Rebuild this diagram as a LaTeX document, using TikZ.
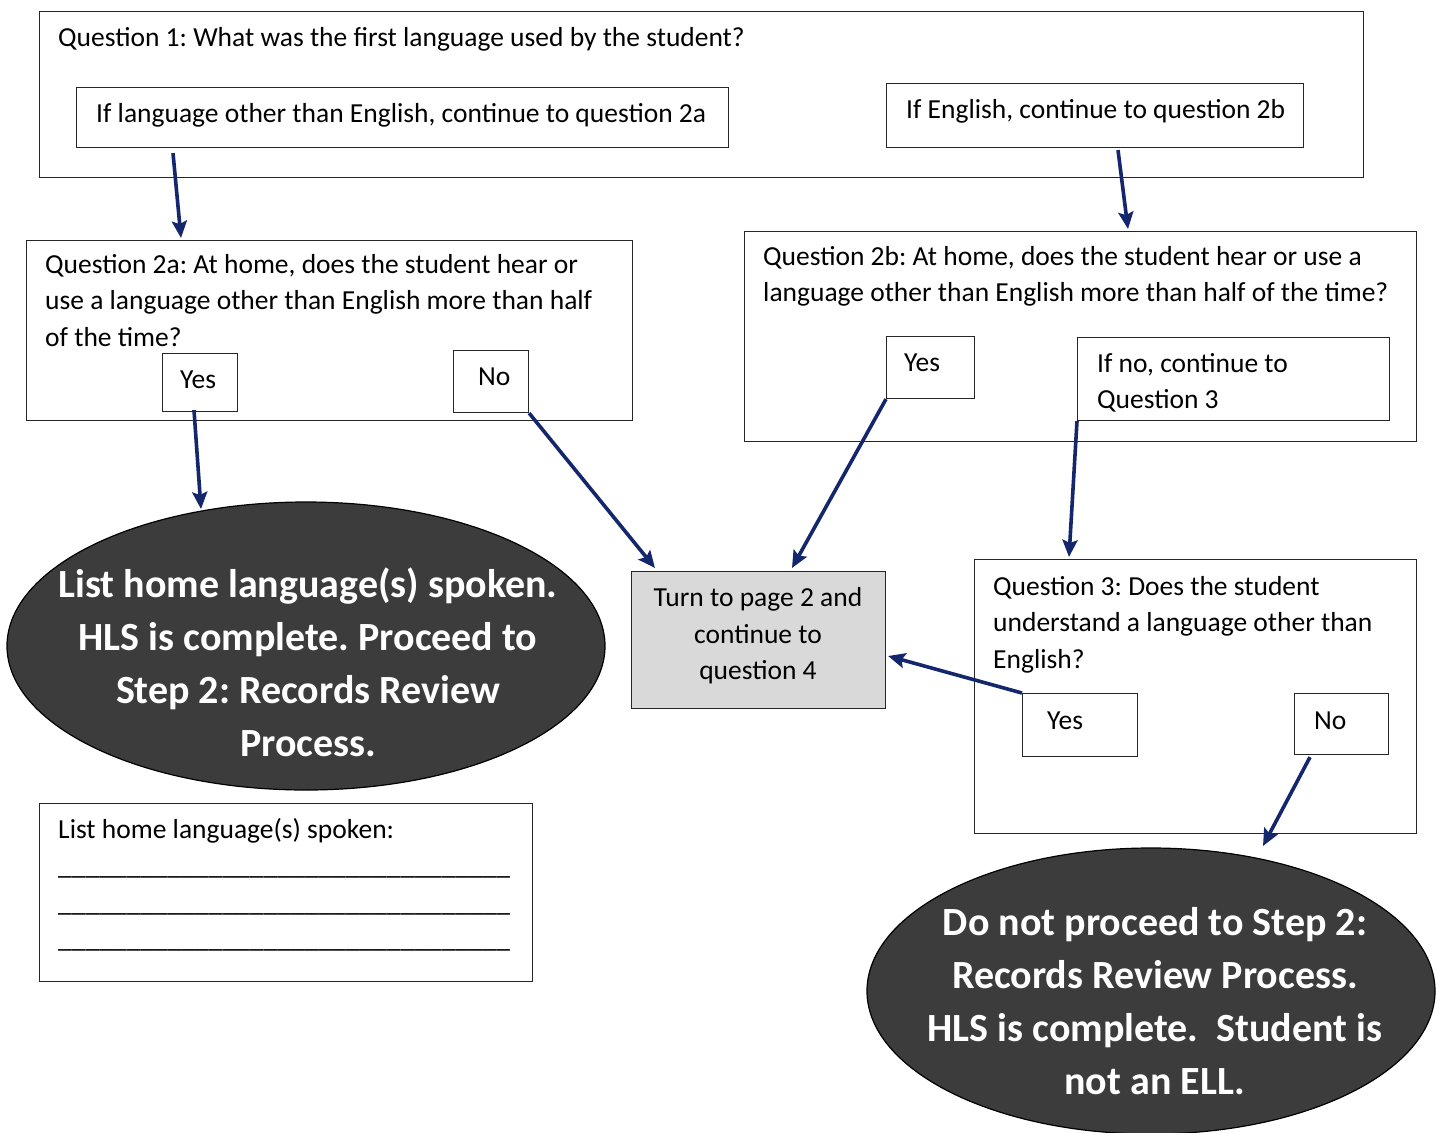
\documentclass[tikz,border=0pt]{standalone}
\usepackage{fontspec}
\setmainfont{Carlito}
\usetikzlibrary{shapes.geometric,arrows.meta,calc}
\definecolor{navy}{HTML}{14276C}
\definecolor{ovalgray}{HTML}{3C3C3C}
\definecolor{turngray}{HTML}{D9D9D9}
\frenchspacing
\begin{document}
\begin{tikzpicture}[x=1pt,y=-1pt,
  box/.style={draw=black!85, line width=1.1pt, rectangle, inner sep=0pt, anchor=north west},
  txt/.style={anchor=north west, inner sep=0pt, align=left, font=\fontsize{27.5}{36.5}\selectfont},
  ctxt/.style={inner sep=0pt, align=center, font=\fontsize{27.5}{36.5}\selectfont},
  oval/.style={ellipse, draw=black, line width=1.2pt, fill=ovalgray, inner sep=0pt},
  ovaltxt/.style={inner sep=0pt, align=center, text=white, font=\bfseries\fontsize{40}{53}\selectfont},
  arr/.style={draw=navy, line width=3.6pt, -{Stealth[length=17pt,width=15pt,inset=3pt]}}
]
\useasboundingbox (0,0) rectangle (1436,1133);
\fill[white] (0,0) rectangle (1436,1133);

% Question 1
\node[box, minimum width=1324pt, minimum height=166pt] (q1) at (39,11) {};
\node[txt] (q1t) at (58,26) {\rule{0pt}{20pt}Question 1: What was the first language used by the student?};
\node[box, minimum width=652pt, minimum height=60pt] (q1a) at (76,87) {};
\node[txt] (q1at) at (96,102) {\rule{0pt}{20pt}If language other than English, continue to question 2a};
\node[box, minimum width=417pt, minimum height=64pt] (q1b) at (886,83) {};
\node[txt] (q1bt) at (906,98) {\rule{0pt}{20pt}If English, continue to question 2b};

% Question 2a
\node[box, minimum width=606pt, minimum height=180pt] (q2a) at (26,240) {};
\node[txt] (q2at) at (45,253) {\rule{0pt}{20pt}Question 2a: At home, does the student hear or\\use a language other than English more than half\\of the time?};
\node[box, minimum width=75pt, minimum height=58pt] (yes2a) at (162,353) {};
\node[txt] (yes2at) at (180,368) {\rule{0pt}{20pt}Yes};
\node[box, minimum width=75pt, minimum height=62pt] (no2a) at (453,350) {};
\node[txt] (no2at) at (478,365) {\rule{0pt}{20pt}No};

% Question 2b
\node[box, minimum width=672pt, minimum height=210pt] (q2b) at (744,231) {};
\node[txt] (q2bt) at (763,245) {\rule{0pt}{20pt}Question 2b: At home, does the student hear or use a\\language other than English more than half of the time?};
\node[box, minimum width=88pt, minimum height=62pt] (yes2b) at (886,336) {};
\node[txt] (yes2bt) at (904,351) {\rule{0pt}{20pt}Yes};
\node[box, minimum width=312pt, minimum height=83pt] (ifno) at (1077,337) {};
\node[txt] (ifnot) at (1097,352) {\rule{0pt}{20pt}If no, continue to\\Question 3};

% Turn to page 2
\node[box, fill=turngray, minimum width=254pt, minimum height=137pt] (turn) at (631,571) {};
\node[ctxt] (turnt) at (758,636) {Turn to page 2 and\\continue to\\question 4};

% Question 3
\node[box, minimum width=442pt, minimum height=274pt] (q3) at (974,559) {};
\node[txt] (q3t) at (993,575) {\rule{0pt}{20pt}Question 3: Does the student\\understand a language other than\\English?};
\node[box, minimum width=115pt, minimum height=63pt] (yes3) at (1022,693) {};
\node[txt] (yes3t) at (1047,709) {\rule{0pt}{20pt}Yes};
\node[box, minimum width=94pt, minimum height=61pt] (no3) at (1294,693) {};
\node[txt] (no3t) at (1314,709) {\rule{0pt}{20pt}No};

% Left oval
\node[oval, minimum width=598pt, minimum height=288pt] (ell1) at (306,646) {};
\node[ovaltxt] (ell1t) at (308,662) {List home language(s) spoken.\\HLS is complete. Proceed to\\Step 2: Records Review\\Process.};

% Right oval
\node[oval, minimum width=568pt, minimum height=286pt] (ell2) at (1151,991) {};
\node[ovaltxt] (ell2t) at (1155,1001) {Do not proceed to Step 2:\\Records Review Process.\\HLS is complete.\ \ Student is\\not an ELL.};

% List box
\node[box, minimum width=493pt, minimum height=178pt] (list) at (39,803) {};
\node[txt] (listt) at (58,818) {\rule{0pt}{20pt}List home language(s) spoken:\\\_\_\_\_\_\_\_\_\_\_\_\_\_\_\_\_\_\_\_\_\_\_\_\_\_\_\_\_\_\_\_\_\_\\\_\_\_\_\_\_\_\_\_\_\_\_\_\_\_\_\_\_\_\_\_\_\_\_\_\_\_\_\_\_\_\_\_\\\_\_\_\_\_\_\_\_\_\_\_\_\_\_\_\_\_\_\_\_\_\_\_\_\_\_\_\_\_\_\_\_\_};

% Arrows
\draw[arr] ($(q1a.south west)+(97,5)$) -- ($(q2a.north west)+(155,-2)$);
\draw[arr] ($(q1b.south west)+(232,2)$) -- ($(q2b.north west)+(384,-2)$);
\draw[arr] ($(yes2a.south west)+(32,-2)$) -- ($(ell1.center)+(-105,-137)$);
\draw[arr] (no2a.south east) -- ($(turn.north west)+(24,-3)$);
\draw[arr] (yes2b.south west) -- ($(turn.north west)+(161,-3)$);
\draw[arr] (ifno.south west) -- ($(q3.north west)+(95,-2)$);
\draw[arr] (yes3.north west) -- ($(turn.north east)+(2,85)$);
\draw[arr] ($(no3.south west)+(16,2)$) -- ($(ell2.center)+(112,-145)$);
\end{tikzpicture}
\end{document}
